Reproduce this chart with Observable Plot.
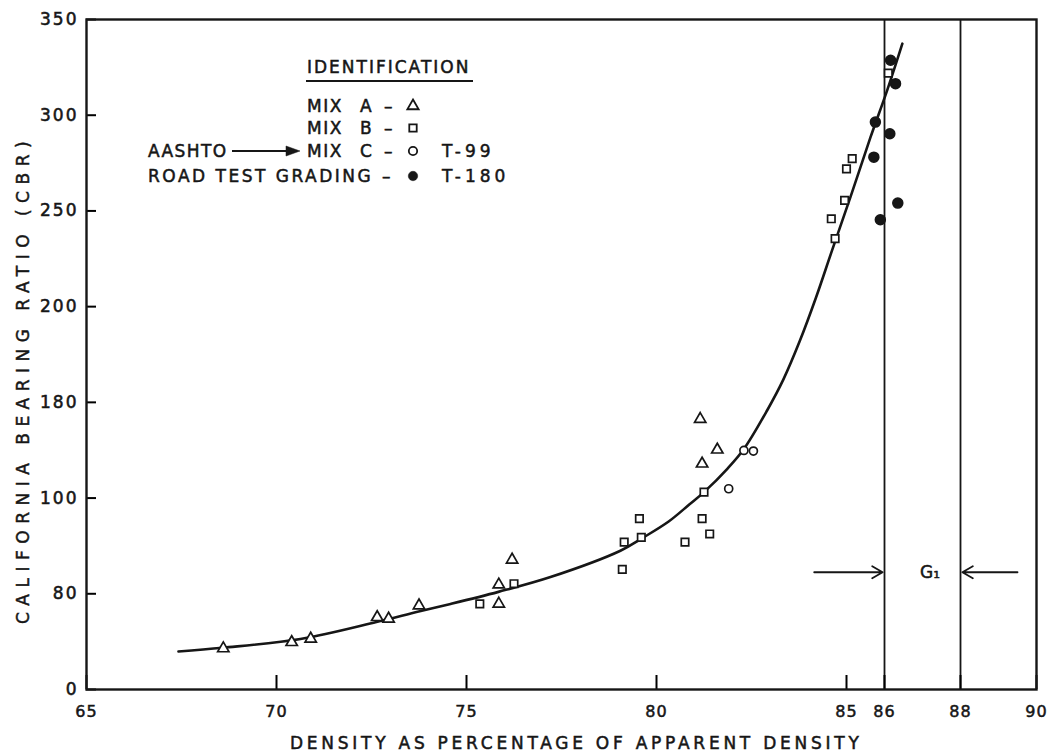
<!DOCTYPE html>
<html><head><meta charset="utf-8">
<script src="https://cdn.jsdelivr.net/npm/d3@7"></script>
<script src="https://cdn.jsdelivr.net/npm/@observablehq/plot@0.6"></script>
<style>
html,body{margin:0;padding:0;background:#fff;}
#chart{width:1050px;height:753px;}
</style></head><body><div id="chart"></div>
<script>
// Axis ticks (the y axis of the original is non-uniform: equally spaced labels)
const xTicks = [65, 70, 75, 80, 85, 86, 88, 90];
const yTicks = [0, 80, 100, 180, 200, 250, 300, 350];
const xTitle = "DENSITY AS PERCENTAGE OF APPARENT DENSITY";
const yTitle = "CALIFORNIA BEARING RATIO (CBR)";

// Mix A (open triangles)
const mixAX = [68.6, 70.4, 70.9, 72.65, 72.95, 73.75, 75.85, 75.85, 76.2, 81.15, 81.2, 81.6];
const mixAY = [34.3, 39.5, 42.4, 60.4, 59.1, 70.2, 71.6, 81.9, 87.1, 166, 128.7, 140.4];
// Mix B (open squares)
const mixBX = [75.35, 76.25, 79.1, 79.15, 79.55, 79.6, 80.75, 81.2, 81.25, 81.4, 84.6, 84.7, 84.95, 85.0, 85.15, 86.1];
const mixBY = [71.6, 82.1, 85.1, 90.8, 95.7, 91.8, 90.8, 95.7, 105, 92.5, 245.9, 235.5, 255.5, 272, 277.3, 322];
// Mix C (open circles)
const mixCX = [81.9, 82.3, 82.55];
const mixCY = [107.8, 139.8, 139.3];
// Road test grading (filled circles)
const roadX = [85.72, 85.76, 85.89, 86.14, 86.16, 86.29, 86.35];
const roadY = [278.1, 296.4, 245.4, 290.3, 328.7, 316.5, 254.1];
// Fitted curve
const curveX = [67.42, 68.58, 70.63, 72.63, 73.74, 74.58, 75.84, 77.21, 79.05, 79.62, 80.32, 80.87, 81.25, 81.87, 82.3, 82.91, 83.34, 83.77, 84.2, 84.62, 85.11, 85.63, 86.07, 86.47];
const curveY = [31.8, 34.9, 42.2, 56.4, 65.2, 71.5, 80.4, 83.5, 89.0, 91.6, 95.1, 98.7, 105.0, 124.7, 141.0, 173.2, 184.8, 192.8, 204.9, 229.4, 257.6, 288.4, 313.0, 337.4];
// G1 zone limits and annotation
const gLimits = [86, 88];
const gArrowX1 = [84.15, 89.5];
const gArrowX2 = [85.95, 88.05];
const gArrowY = 84.5;
const gLabelX = 87.2;

const W = 1050, H = 753, mL = 86, mR = 14, mT = 19, mB = 64;
const plotW = W - mL - mR, plotH = H - mT - mB;
const yRange = yTicks.map((_, i) => (H - mB) - i * plotH / (yTicks.length - 1));
const rows = (xs, ys) => xs.map((x, i) => ({x, y: ys[i]}));
const ink = "#161616";

// Inward tick lengths (14px on x, 10px on y) expressed in data units
const yPix = d3.scaleLinear(yTicks, yRange);
const xPix = d3.scaleLinear([65, 90], [mL, W - mR]);
const xTickTop = yPix.invert(H - mB - 14);
const yTickEnd = xPix.invert(mL + 10);

const chart = Plot.plot({
  width: W, height: H,
  marginLeft: mL, marginRight: mR, marginTop: mT, marginBottom: mB,
  style: {fontFamily: "DejaVu Sans", fontSize: "16px", color: ink, background: "#fff"},
  x: {domain: [65, 90]},
  y: {type: "linear", domain: yTicks, range: yRange},
  marks: [
    Plot.ruleX(gLimits, {stroke: ink, strokeWidth: 1.8}),
    Plot.ruleX(xTicks, {y1: 0, y2: xTickTop, stroke: "#000", strokeWidth: 2}),
    Plot.ruleY(yTicks, {x1: 65, x2: yTickEnd, stroke: "#000", strokeWidth: 2}),
    Plot.frame({stroke: ink, strokeWidth: 2.4}),
    Plot.axisX(xTicks, {tickSize: 0, tickPadding: 16, label: null}),
    Plot.axisY(yTicks, {tickSize: 0, tickPadding: 8, label: null}),
    Plot.line(rows(curveX, curveY), {x: "x", y: "y", curve: "catmull-rom", stroke: ink, strokeWidth: 2.6}),
    Plot.dot(rows(mixAX, mixAY), {x: "x", y: "y", symbol: "triangle", r: 4.2, fill: "#fff", stroke: ink, strokeWidth: 1.7}),
    Plot.dot(rows(mixBX, mixBY), {x: "x", y: "y", symbol: "square", r: 4.2, fill: "#fff", stroke: ink, strokeWidth: 1.7}),
    Plot.dot(rows(mixCX, mixCY), {x: "x", y: "y", symbol: "circle", r: 4, fill: "#fff", stroke: ink, strokeWidth: 1.7}),
    Plot.dot(rows(roadX, roadY), {x: "x", y: "y", symbol: "circle", r: 5, fill: ink, stroke: ink}),
    Plot.arrow(gArrowX1.map((x1, i) => ({x1, x2: gArrowX2[i], y: gArrowY})), {x1: "x1", x2: "x2", y1: "y", y2: "y", stroke: ink, strokeWidth: 1.8, headLength: 10}),
    Plot.text([{x: gLabelX, y: gArrowY, t: "G₁"}], {x: "x", y: "y", text: "t", fontSize: 17, fill: ink, stroke: ink, strokeWidth: 0.5})
  ]
});

document.getElementById("chart").appendChild(chart);
const svg = d3.select(chart);

svg.selectAll('[aria-label="y-axis tick label"] text').style("font-size", "17px").style("letter-spacing", "2px").attr("stroke", ink).attr("stroke-width", 0.55);
svg.selectAll('[aria-label="x-axis tick label"] text').style("font-size", "16px").style("letter-spacing", "1px").attr("stroke", ink).attr("stroke-width", 0.5);

// Axis titles
svg.append("text").attr("x", 290).attr("y", 749).attr("text-anchor", "start")
  .attr("font-family", "DejaVu Sans").attr("font-size", 17).style("letter-spacing", "3.75px")
  .attr("fill", ink).attr("stroke", ink).attr("stroke-width", 0.5).text(xTitle);
svg.append("text").attr("transform", "translate(29,624) rotate(-90)").attr("text-anchor", "start")
  .attr("font-family", "DejaVu Sans").attr("font-size", 17).style("letter-spacing", "6.5px")
  .attr("fill", ink).attr("stroke", ink).attr("stroke-width", 0.5).text(yTitle);

// Identification legend
const leg = svg.append("g").attr("font-family", "DejaVu Sans").attr("font-size", 17).attr("text-anchor", "start")
  .attr("fill", ink).attr("stroke", ink).attr("stroke-width", 0.5).style("letter-spacing", "1.5px");
const txt = (x, y, s, ls) => {
  const t = leg.append("text").attr("x", x).attr("y", y).text(s);
  if (ls !== undefined) t.style("letter-spacing", ls + "px");
  return t;
};
txt(307, 73, "IDENTIFICATION", 2);
leg.append("line").attr("x1", 306).attr("x2", 473).attr("y1", 81).attr("y2", 81).attr("stroke", ink).attr("stroke-width", 2.2);
const legRows = [
  {y: 112, mix: "A", sym: d3.symbolTriangle},
  {y: 134, mix: "B", sym: d3.symbolSquare},
  {y: 157, mix: "C", sym: d3.symbolCircle}
];
legRows.forEach(r => {
  txt(307, r.y, "MIX");
  txt(360, r.y, r.mix);
  txt(384, r.y, "–");
  leg.append("path").attr("d", d3.symbol(r.sym, 55)()).attr("transform", `translate(413,${r.y - 6})`)
    .attr("fill", "#fff").attr("stroke", ink).attr("stroke-width", 1.8);
});
txt(148, 157, "AASHTO", 1.4);
leg.append("line").attr("x1", 232).attr("x2", 288).attr("y1", 151).attr("y2", 151).attr("stroke", ink).attr("stroke-width", 1.8);
leg.append("path").attr("d", "M286,146L300,151L286,156Z").attr("fill", ink);
txt(442, 157, "T-99", 4);
txt(148, 182, "ROAD TEST GRADING", 2.5);
txt(382, 182, "–");
leg.append("path").attr("d", d3.symbol(d3.symbolCircle, 70)()).attr("transform", "translate(413,176)").attr("fill", ink);
txt(442, 182, "T-180", 4);
</script>
</body></html>
